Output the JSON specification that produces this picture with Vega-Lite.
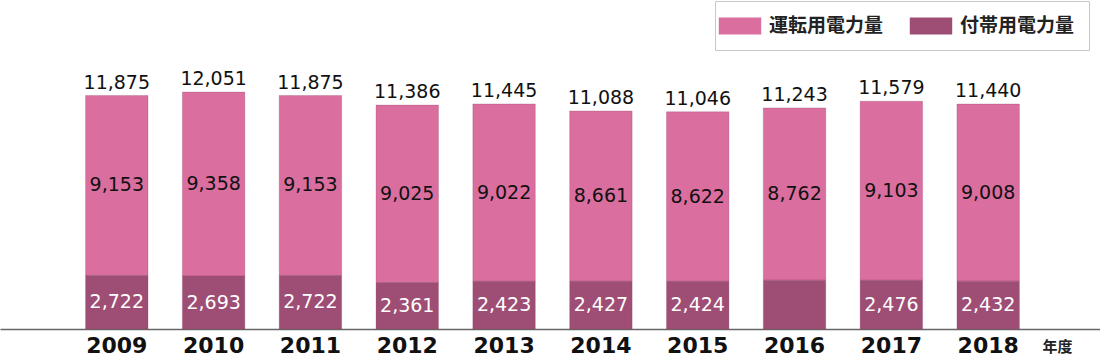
{
  "$schema": "https://vega.github.io/schema/vega-lite/v6.json",
  "autosize": "none",
  "width": 1100,
  "height": 329,
  "padding": {"left": 0, "top": 0, "right": 0, "bottom": 30},
  "background": "white",
  "config": {"view": {"stroke": null}},
  "data": {"values": [
    {"year": "2009", "type": "運転用電力量", "value": 9153},
    {"year": "2009", "type": "付帯用電力量", "value": 2722},
    {"year": "2010", "type": "運転用電力量", "value": 9358},
    {"year": "2010", "type": "付帯用電力量", "value": 2693},
    {"year": "2011", "type": "運転用電力量", "value": 9153},
    {"year": "2011", "type": "付帯用電力量", "value": 2722},
    {"year": "2012", "type": "運転用電力量", "value": 9025},
    {"year": "2012", "type": "付帯用電力量", "value": 2361},
    {"year": "2013", "type": "運転用電力量", "value": 9022},
    {"year": "2013", "type": "付帯用電力量", "value": 2423},
    {"year": "2014", "type": "運転用電力量", "value": 8661},
    {"year": "2014", "type": "付帯用電力量", "value": 2427},
    {"year": "2015", "type": "運転用電力量", "value": 8622},
    {"year": "2015", "type": "付帯用電力量", "value": 2424},
    {"year": "2016", "type": "運転用電力量", "value": 8762},
    {"year": "2016", "type": "付帯用電力量", "value": 2481},
    {"year": "2017", "type": "運転用電力量", "value": 9103},
    {"year": "2017", "type": "付帯用電力量", "value": 2476},
    {"year": "2018", "type": "運転用電力量", "value": 9008},
    {"year": "2018", "type": "付帯用電力量", "value": 2432}
  ]},
  "encoding": {
    "x": {
      "field": "year", "type": "nominal", "sort": null,
      "scale": {"paddingInner": 0.355, "paddingOuter": 0.858, "align": 0.515},
      "axis": {
        "title": "年度", "titleAngle": 0, "titleX": 1057, "titleY": 17,
        "titleAlign": "center", "titleBaseline": "middle",
        "titleFont": "Noto Sans CJK JP", "titleFontSize": 15, "titleFontWeight": "bold", "titleColor": "#222",
        "labelAngle": 0, "labelFont": "DejaVu Sans", "labelFontSize": 22, "labelFontWeight": "bold",
        "labelColor": "#111", "labelPadding": 6,
        "ticks": false, "domainColor": "#666", "domainWidth": 1.5
      }
    }
  },
  "layer": [
    {
      "mark": {"type": "bar", "stroke": "#8a3d62", "strokeWidth": 0.5, "strokeOpacity": 0.5},
      "encoding": {
        "y": {"field": "value", "type": "quantitative", "stack": "zero",
              "scale": {"domain": [0, 16732], "nice": false, "zero": true}, "axis": null},
        "color": {
          "field": "type", "type": "nominal",
          "scale": {"domain": ["運転用電力量", "付帯用電力量"], "range": ["#D96E9F", "#9E4E74"]},
          "legend": {
            "title": null, "orient": "none", "legendX": 715, "legendY": 1,
            "direction": "horizontal",
            "symbolType": "M-2,-0.8H2V0.8H-2Z", "symbolSize": 450, "symbolStrokeWidth": 0,
            "labelFont": "Noto Sans CJK JP", "labelFontSize": 19, "labelFontWeight": "bold", "labelColor": "#222",
            "labelOffset": 18, "columnPadding": 25,
            "padding": 14, "strokeColor": "#c8c8c8", "fillColor": "white", "cornerRadius": 0
          }
        },
        "order": {"field": "type", "sort": "ascending"}
      }
    },
    {
      "transform": [
        {"stack": "value", "groupby": ["year"], "sort": [{"field": "type", "order": "ascending"}], "as": ["v0", "v1"]},
        {"calculate": "(datum.v0 + datum.v1) / 2", "as": "mid"},
        {"filter": "!(datum.year == '2016' && datum.type == '付帯用電力量')"}
      ],
      "mark": {"type": "text", "font": "DejaVu Sans", "fontSize": 19, "baseline": "middle", "align": "center"},
      "encoding": {
        "y": {"field": "mid", "type": "quantitative"},
        "text": {"field": "value", "type": "quantitative", "format": ","},
        "color": {
          "condition": {"test": "datum.type == '付帯用電力量'", "value": "white"},
          "value": "#111"
        }
      }
    },
    {
      "transform": [
        {"aggregate": [{"op": "sum", "field": "value", "as": "total"}], "groupby": ["year"]}
      ],
      "mark": {"type": "text", "font": "DejaVu Sans", "fontSize": 19, "baseline": "alphabetic", "align": "center", "dy": -7, "color": "#111"},
      "encoding": {
        "y": {"field": "total", "type": "quantitative"},
        "text": {"field": "total", "type": "quantitative", "format": ","}
      }
    }
  ]
}
